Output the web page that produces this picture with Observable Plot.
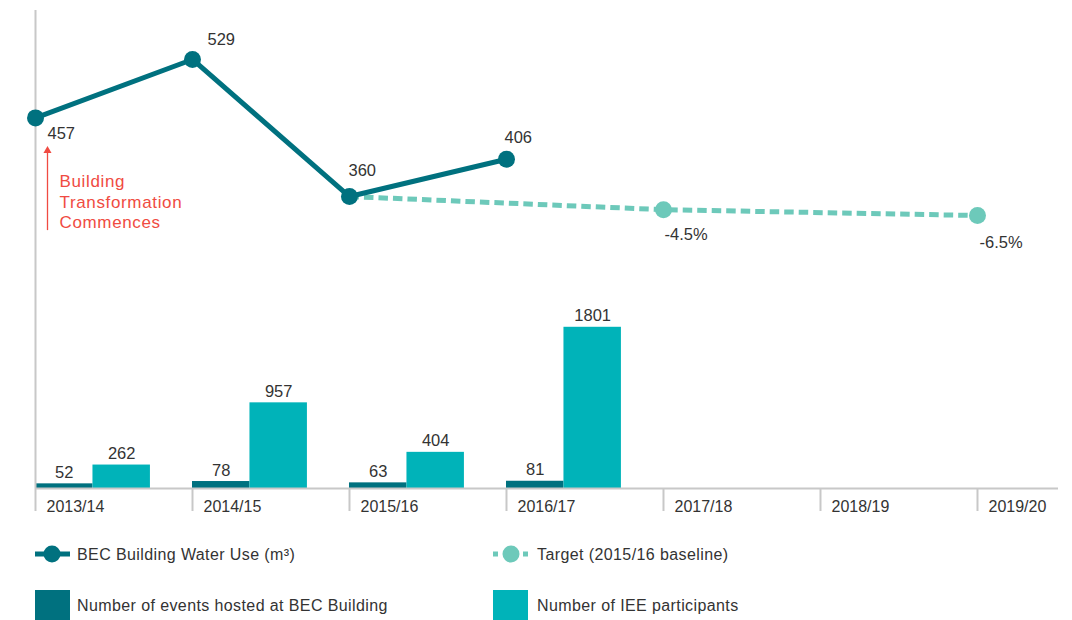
<!DOCTYPE html>
<html>
<head>
<meta charset="utf-8">
<script src="https://cdn.jsdelivr.net/npm/d3@7"></script>
<script src="https://cdn.jsdelivr.net/npm/@observablehq/plot@0.6"></script>
<style>
  html, body { margin: 0; padding: 0; background: #fff; }
  #wrap { position: relative; width: 1072px; height: 620px; overflow: hidden;
          font-family: "Liberation Sans", Arial, sans-serif; color: #333; }
  .layer { position: absolute; left: 0; top: 0; }
  .leg { position: absolute; font-size: 16px; letter-spacing: 0.4px; color: #333; white-space: nowrap; }
  .icon { position: absolute; }
</style>
</head>
<body>
<div id="wrap">
  <div id="bars" class="layer"></div>
  <div id="lines" class="layer"></div>
  <div id="legend"></div>
</div>
<script>
// ---- data ----
const years = ["2013/14", "2014/15", "2015/16", "2016/17", "2017/18", "2018/19", "2019/20"];
const waterYears = ["2013/14", "2014/15", "2015/16", "2016/17"];
const waterUse = [457, 529, 360, 406];
const targetYears = ["2015/16", "2017/18", "2019/20"];
const targetValues = [360, 343.8, 336.6];
const targetLabels = ["", "-4.5%", "-6.5%"];
const barYears = ["2013/14", "2014/15", "2015/16", "2016/17"];
const events = [52, 78, 63, 81];
const participants = [262, 957, 404, 1801];
const annotation = [{year: "2013/14", anchor: 457, text: "Building\nTransformation\nCommences", from: 318, to: 419}];

const legendItems = [
  "BEC Building Water Use (m³)",
  "Target (2015/16 baseline)",
  "Number of events hosted at BEC Building",
  "Number of IEE participants"
];

// ---- styles ----
const FONT = "'Liberation Sans', Arial, sans-serif";
const DARK = "#00717f";
const CYAN = "#00b3b9";
const TARGET = "#6dc9ba";
const RED = "#f04b42";
const GRAY = "#c8c8c8";
const TEXT = "#333";

const idx = y => years.indexOf(y);
const water = waterYears.map((y, i) => ({year: y, value: waterUse[i]}));
const target = targetYears.map((y, i) => ({year: y, value: targetValues[i], label: targetLabels[i]}));
const bars = barYears.map((y, i) => ({year: y, events: events[i], participants: participants[i]}));

const W = 1072, H = 530;
const common = {
  width: W, height: H,
  marginLeft: 35, marginRight: 14, marginTop: 10, marginBottom: 42,
  x: {type: "linear", domain: [0, 6.516], axis: null},
  style: {fontFamily: FONT, fontSize: "16px", color: TEXT, background: "transparent", overflow: "visible"}
};

const BW = 0.366; // bar width in band units
const tickIdx = years.map((_, i) => i);

// ---- bars layer (with axes) ----
const barsPlot = Plot.plot({
  ...common,
  y: {domain: [0, 5340], axis: null},
  marks: [
    Plot.rectY(bars, {x1: d => idx(d.year), x2: d => idx(d.year) + BW, y: "events", fill: DARK, inset: 0}),
    Plot.rectY(bars, {x1: d => idx(d.year) + BW, x2: d => idx(d.year) + 2 * BW, y: "participants", fill: CYAN, inset: 0}),
    Plot.ruleX([0], {stroke: GRAY, strokeWidth: 2}),
    Plot.ruleY([0], {stroke: GRAY, strokeWidth: 2}),
    Plot.axisX({
      ticks: tickIdx, tickFormat: () => "",
      tickSize: 23, tickPadding: 0,
      stroke: GRAY, strokeWidth: 2, label: null
    }),
    Plot.axisX({
      ticks: tickIdx, tickFormat: i => years[i],
      tickSize: 0, tickPadding: 0,
      fill: TEXT, fontSize: 16,
      textAnchor: "start", dx: 11, dy: 12,
      label: null
    }),
    Plot.text(bars, {x: d => idx(d.year) + BW / 2, y: "events", text: d => String(d.events),
      lineAnchor: "bottom", dy: -6, fill: TEXT, fontSize: 16.5}),
    Plot.text(bars, {x: d => idx(d.year) + 1.5 * BW, y: "participants", text: d => String(d.participants),
      lineAnchor: "bottom", dy: -6, fill: TEXT, fontSize: 16.5})
  ]
});
document.getElementById("bars").appendChild(barsPlot);

// ---- line layer ----
const waterOffsets = [[12, 21], [15, -14], [-1, -21], [-2, -16]];
const targetOffsets = [null, [1, 30], [2, 32]];

const lineMarks = [
  Plot.ruleX(annotation, {x: d => idx(d.year), y1: "from", y2: "to", dx: 12, stroke: RED, strokeWidth: 1.3}),
  Plot.dot(annotation, {x: d => idx(d.year), y: "to", dx: 12, dy: 2, symbol: "triangle", r: 3, fill: RED}),
  Plot.text(annotation, {x: d => idx(d.year), y: "anchor", text: "text", dx: 24, dy: 55,
    textAnchor: "start", lineAnchor: "top", lineHeight: 1.2, fill: RED, fontSize: 17}),
  Plot.line(target, {x: d => idx(d.year), y: "value", stroke: TARGET, strokeWidth: 5,
    strokeDasharray: "9.5,5", strokeLinecap: "butt"}),
  Plot.dot(target.filter(d => d.label), {x: d => idx(d.year), y: "value", r: 8.5, fill: TARGET}),
  Plot.line(water, {x: d => idx(d.year), y: "value", stroke: DARK, strokeWidth: 5}),
  Plot.dot(water, {x: d => idx(d.year), y: "value", r: 8.5, fill: DARK})
];
water.forEach((d, i) => {
  lineMarks.push(Plot.text([d], {x: d => idx(d.year), y: "value", text: d => String(d.value),
    textAnchor: "start", lineAnchor: "bottom", dx: waterOffsets[i][0], dy: waterOffsets[i][1], fill: TEXT, fontSize: 16.5}));
});
target.forEach((d, i) => {
  if (!d.label) return;
  lineMarks.push(Plot.text([d], {x: d => idx(d.year), y: "value", text: "label",
    textAnchor: "start", lineAnchor: "bottom", dx: targetOffsets[i][0], dy: targetOffsets[i][1], fill: TEXT, fontSize: 16.5}));
});

const linePlot = Plot.plot({
  ...common,
  y: {domain: [0, 589.4], axis: null},
  marks: lineMarks
});
// widen the annotation lettering slightly to match the reference face
d3.select(linePlot).selectAll(`g[fill="${RED}"] text`).style("letter-spacing", "0.65px");
document.getElementById("lines").appendChild(linePlot);

// ---- legend ----
const legend = document.getElementById("legend");
const ns = "http://www.w3.org/2000/svg";
function icon(left, top, w, h, build) {
  const s = document.createElementNS(ns, "svg");
  s.setAttribute("width", w); s.setAttribute("height", h);
  s.setAttribute("class", "icon");
  s.style.left = left + "px"; s.style.top = top + "px";
  s.innerHTML = build;
  legend.appendChild(s);
}
function label(left, baseline, text) {
  const d = document.createElement("div");
  d.className = "leg";
  d.textContent = text;
  d.style.left = left + "px";
  d.style.top = (baseline - 15) + "px";
  d.style.lineHeight = "18px";
  legend.appendChild(d);
}
icon(35, 544, 36, 20, `<line x1="0" y1="10" x2="35" y2="10" stroke="${DARK}" stroke-width="5"/><circle cx="17" cy="10" r="8.5" fill="${DARK}"/>`);
label(77, 561, legendItems[0]);
icon(493, 544, 36, 20, `<rect x="0" y="7.5" width="5" height="5" fill="${TARGET}"/><circle cx="18" cy="10" r="8.5" fill="${TARGET}"/><rect x="30" y="7.5" width="5" height="5" fill="${TARGET}"/>`);
label(537, 561, legendItems[1]);
icon(35, 590, 35, 30, `<rect x="0" y="0" width="35" height="30" fill="${DARK}"/>`);
label(77, 612, legendItems[2]);
icon(493, 590, 35, 30, `<rect x="0" y="0" width="35" height="30" fill="${CYAN}"/>`);
label(537, 612, legendItems[3]);
</script>
</body>
</html>
